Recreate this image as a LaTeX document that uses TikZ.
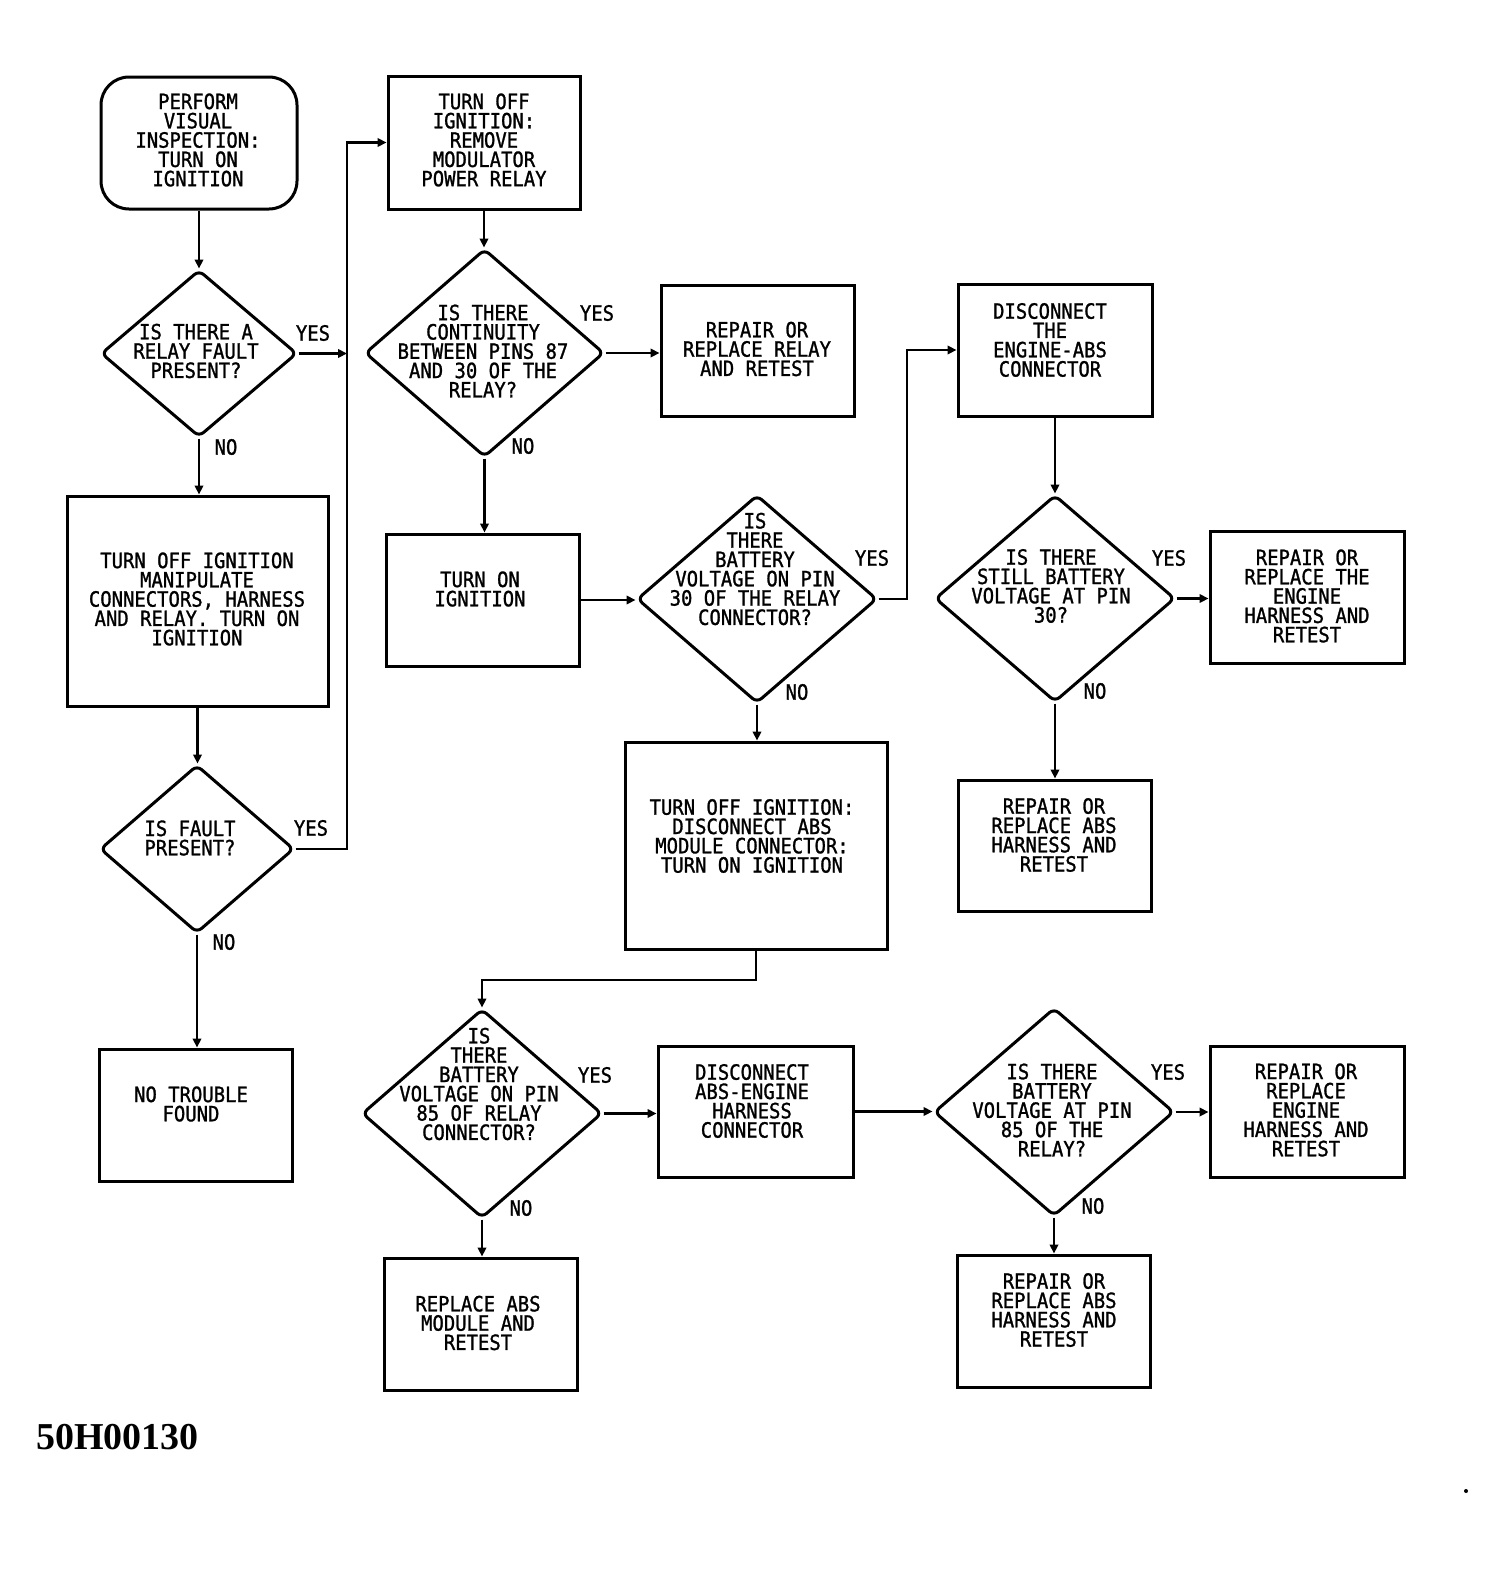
\documentclass[tikz,border=0pt]{standalone}
\usepackage{fontspec}
\newfontfamily\flowfont[FakeStretch=0.9,FakeBold=1.2]{DejaVu Sans Mono}
\newfontfamily\codefont{Liberation Serif}
\usetikzlibrary{shapes.geometric,arrows.meta}
\begin{document}
\begin{tikzpicture}[x=1pt,y=-1pt,
  box/.style={draw, line width=3pt, inner sep=0pt, rectangle},
  dia/.style={draw, line width=3pt, diamond, inner sep=0pt, rounded corners=6pt},
  txt/.style={font=\flowfont\fontsize{21pt}{19.3pt}\selectfont, align=center, inner sep=0pt},
  yn/.style={font=\flowfont\fontsize{21pt}{19.3pt}\selectfont, inner sep=0pt},
  arr/.style={line width=2.8pt, -{Triangle[length=9pt,width=8.5pt]}},
]
\useasboundingbox (0,0) rectangle (1511,1574);

% ---- shapes ----
\node[box, rounded corners=28pt, minimum width=196pt, minimum height=132pt] (start) at (199,143) {};
\node[dia, minimum width=196pt, minimum height=167pt] (d1) at (199,353.5) {};
\node[box, minimum width=261pt, minimum height=210pt] (b3) at (197.5,601) {};
\node[dia, minimum width=194pt, minimum height=168pt] (d2) at (197,849) {};
\node[box, minimum width=193pt, minimum height=132pt] (b5) at (195.5,1115) {};

\node[box, minimum width=192pt, minimum height=133pt] (b6) at (484,142.5) {};
\node[dia, minimum width=239pt, minimum height=208pt] (d3) at (484.5,353) {};
\node[box, minimum width=193pt, minimum height=131pt] (b8) at (757.5,350.5) {};
\node[box, minimum width=193pt, minimum height=132pt] (b9) at (482.5,600) {};
\node[dia, minimum width=240pt, minimum height=208pt] (d4) at (757,599) {};
\node[box, minimum width=194pt, minimum height=132pt] (b11) at (1055,350) {};
\node[dia, minimum width=240pt, minimum height=207pt] (d5) at (1055,598.5) {};
\node[box, minimum width=194pt, minimum height=132pt] (b13) at (1307,597) {};
\node[box, minimum width=193pt, minimum height=131pt] (b14) at (1054.5,845.5) {};
\node[box, minimum width=262pt, minimum height=207pt] (b15) at (756,845.5) {};
\node[dia, minimum width=240pt, minimum height=209pt] (d6) at (482,1113.5) {};
\node[box, minimum width=195pt, minimum height=131pt] (b17) at (755.5,1111.5) {};
\node[dia, minimum width=240pt, minimum height=208pt] (d7) at (1054,1112) {};
\node[box, minimum width=194pt, minimum height=131pt] (b19) at (1307,1111.5) {};
\node[box, minimum width=193pt, minimum height=132pt] (b20) at (1053.5,1321) {};
\node[box, minimum width=193pt, minimum height=132pt] (b21) at (480.5,1324) {};

% ---- texts ----
\node[txt] (tstart) at (198,140) {PERFORM\\VISUAL\\INSPECTION:\\TURN ON\\IGNITION};
\node[txt] (td1) at (196,351) {IS THERE A\\RELAY FAULT\\PRESENT?};
\node[txt] (tb3) at (197,599) {TURN OFF IGNITION\\MANIPULATE\\CONNECTORS, HARNESS\\AND RELAY. TURN ON\\IGNITION};
\node[txt] (td2) at (190,838) {IS FAULT\\PRESENT?};
\node[txt] (tb5) at (191,1104) {NO TROUBLE\\FOUND};
\node[txt] (tb6) at (484,140) {TURN OFF\\IGNITION:\\REMOVE\\MODULATOR\\POWER RELAY};
\node[txt] (td3) at (483,351) {IS THERE\\CONTINUITY\\BETWEEN PINS 87\\AND 30 OF THE\\RELAY?};
\node[txt] (tb8) at (757,349) {REPAIR OR\\REPLACE RELAY\\AND RETEST};
\node[txt] (tb9) at (480,589) {TURN ON\\IGNITION};
\node[txt] (td4) at (755,569) {IS\\THERE\\BATTERY\\VOLTAGE ON PIN\\30 OF THE RELAY\\CONNECTOR?};
\node[txt] (tb11) at (1050,340) {DISCONNECT\\THE\\ENGINE-ABS\\CONNECTOR};
\node[txt] (td5) at (1051,586) {IS THERE\\STILL BATTERY\\VOLTAGE AT PIN\\30?};
\node[txt] (tb13) at (1307,596) {REPAIR OR\\REPLACE THE\\ENGINE\\HARNESS AND\\RETEST};
\node[txt] (tb14) at (1054,835) {REPAIR OR\\REPLACE ABS\\HARNESS AND\\RETEST};
\node[txt] (tb15) at (752,836) {TURN OFF IGNITION:\\DISCONNECT ABS\\MODULE CONNECTOR:\\TURN ON IGNITION};
\node[txt] (td6) at (479,1084) {IS\\THERE\\BATTERY\\VOLTAGE ON PIN\\85 OF RELAY\\CONNECTOR?};
\node[txt] (tb17) at (752,1101) {DISCONNECT\\ABS-ENGINE\\HARNESS\\CONNECTOR};
\node[txt] (td7) at (1052,1110) {IS THERE\\BATTERY\\VOLTAGE AT PIN\\85 OF THE\\RELAY?};
\node[txt] (tb19) at (1306,1110) {REPAIR OR\\REPLACE\\ENGINE\\HARNESS AND\\RETEST};
\node[txt] (tb20) at (1054,1310) {REPAIR OR\\REPLACE ABS\\HARNESS AND\\RETEST};
\node[txt] (tb21) at (478,1323) {REPLACE ABS\\MODULE AND\\RETEST};

% ---- yes / no labels ----
\node[yn] (y1) at (313,333) {YES};
\node[yn] (n1) at (226,447) {NO};
\node[yn] (y2) at (311,828) {YES};
\node[yn] (n2) at (224,942) {NO};
\node[yn] (y3) at (597,313) {YES};
\node[yn] (n3) at (523,446) {NO};
\node[yn] (y4) at (872,558) {YES};
\node[yn] (n4) at (797,692) {NO};
\node[yn] (y5) at (1169,558) {YES};
\node[yn] (n5) at (1095,691) {NO};
\node[yn] (y6) at (595,1075) {YES};
\node[yn] (n6) at (521,1208) {NO};
\node[yn] (y7) at (1168,1072) {YES};
\node[yn] (n7) at (1093,1206) {NO};

% ---- helper coordinates ----
\coordinate (bus) at (347,142.5);
\coordinate (c4) at (907,599);
\coordinate (c15) at (757,980);

% ---- connectors ----
\draw[arr] (start.south) -- (start.south |- d1.north);
\draw[arr] (d1.east) -- (d1.east -| bus);
\draw[arr] (d2.east) -| (bus) -- (b6.west);
\draw[arr] (d1.south) -- (d1.south |- b3.north);
\draw[arr] (b3.south) -- (b3.south |- d2.north);
\draw[arr] (d2.south) -- (d2.south |- b5.north);
\draw[arr] (b6.south) -- (b6.south |- d3.north);
\draw[arr] (d3.east) -- (d3.east -| b8.west);
\draw[arr] (d3.south) -- (d3.south |- b9.north);
\draw[arr] (b9.east) -- (b9.east -| d4.west);
\draw[arr] (d4.east) -- (c4) |- (b11.west);
\draw[arr] (b11.south) -- (b11.south |- d5.north);
\draw[arr] (d5.east) -- (d5.east -| b13.west);
\draw[arr] (d5.south) -- (d5.south |- b14.north);
\draw[arr] (d4.south) -- (d4.south |- b15.north);
\draw[arr] (b15.south) -- (b15.south |- c15) -| (d6.north);
\draw[arr] (d6.east) -- (d6.east -| b17.west);
\draw[arr] (d6.south) -- (d6.south |- b21.north);
\draw[arr] (b17.east) -- (b17.east -| d7.west);
\draw[arr] (d7.east) -- (d7.east -| b19.west);
\draw[arr] (d7.south) -- (d7.south |- b20.north);

% ---- figure code and mark ----
\node[font=\codefont\bfseries\fontsize{38pt}{40pt}\selectfont, anchor=base west, inner sep=0pt] (code) at (36,1449) {50H00130};
\fill (1466,1491) circle (2pt);
\end{tikzpicture}
\end{document}
